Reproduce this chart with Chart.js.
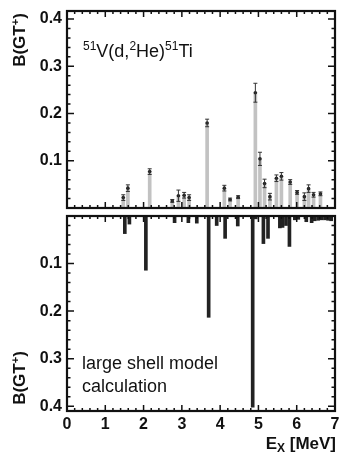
<!DOCTYPE html>
<html>
<head>
<meta charset="utf-8">
<script src="https://cdn.jsdelivr.net/npm/chart.js@4.4.1/dist/chart.umd.min.js"></script>
<style>
  body { margin: 0; background: #fff; width: 339px; height: 463px; position: relative; overflow: hidden; font-family: 'Liberation Sans', Arial, sans-serif; color: #111; }
  canvas { position: absolute; left: 0; }
  #topChart { top: 0; }
  #calcChart { top: 212px; }
  .lbl { position: absolute; white-space: nowrap; z-index: 5; }
  .ytitle { width: 80px; height: 20px; line-height: 20px; text-align: center; font-weight: bold; font-size: 17px; transform: rotate(-90deg); }
  .up { font-size: 12px; position: relative; top: -7px; }
</style>
</head>
<body>
<canvas id="topChart" width="339" height="213"></canvas>
<canvas id="calcChart" width="339" height="251"></canvas>

<div class="lbl ytitle" style="left:-20px; top:30px;">B(GT<span style="font-size:11px;position:relative;top:-6px;">+</span>)</div>
<div class="lbl ytitle" style="left:-20px; top:368px;">B(GT<span style="font-size:11px;position:relative;top:-6px;">+</span>)</div>
<div class="lbl" style="left:83px; top:41px; font-size:18px; line-height:20px;"><span class="up">51</span>V(d,<span class="up">2</span>He)<span class="up">51</span>Ti</div>
<div class="lbl" style="left:82px; top:352px; font-size:18px; line-height:23px;">large shell model<br>calculation</div>
<div class="lbl" style="right:3px; top:434px; font-size:17px; line-height:20px; font-weight:bold;">E<span style="font-size:12px;position:relative;top:3px;">X</span> [MeV]</div>

<script>
// measured 51V(d,2He)51Ti strengths
const expEnergy = [1.47, 1.59, 2.16, 2.75, 2.91, 3.06, 3.19, 3.66, 4.11, 4.26, 4.47, 4.92, 5.04, 5.16, 5.30, 5.47, 5.60, 5.83, 6.01, 6.20, 6.31, 6.44, 6.62];
const expStrength = [0.022, 0.042, 0.077, 0.015, 0.026, 0.027, 0.022, 0.180, 0.042, 0.018, 0.023, 0.244, 0.104, 0.052, 0.024, 0.063, 0.067, 0.055, 0.033, 0.024, 0.041, 0.028, 0.030];
const expError = [0.006, 0.007, 0.006, 0.003, 0.012, 0.006, 0.006, 0.008, 0.006, 0.003, 0.003, 0.020, 0.014, 0.009, 0.007, 0.007, 0.008, 0.005, 0.004, 0.008, 0.008, 0.005, 0.004];

// shell model calculation
const calcEnergy = [1.51, 1.63, 2.06, 2.81, 3.17, 3.39, 3.70, 3.91, 4.13, 4.46, 4.85, 4.93, 5.13, 5.25, 5.56, 5.63, 5.72, 5.81, 5.95, 6.04, 6.25, 6.39, 6.47, 6.56, 6.65, 6.74, 6.82, 6.90];
const calcStrength = [0.037, 0.017, 0.114, 0.014, 0.014, 0.015, 0.213, 0.020, 0.047, 0.021, 0.402, 0.006, 0.058, 0.047, 0.025, 0.024, 0.020, 0.064, 0.008, 0.007, 0.012, 0.014, 0.010, 0.009, 0.008, 0.008, 0.009, 0.010];

const yTickLabels = ['0.1', '0.2', '0.3', '0.4'];
const xTickLabels = ['0', '1', '2', '3', '4', '5', '6', '7'];

const tickFont = { family: "'Liberation Sans', Arial, sans-serif", size: 16, weight: 'bold' };

// frame plus inward minor/major ticks
const framePlugin = {
    id: 'frame',
    afterDraw(chart) {
        const ctx = chart.ctx;
        const a = chart.chartArea;
        const xs = chart.scales.x, ys = chart.scales.y;
        ctx.save();
        ctx.strokeStyle = '#111';
        ctx.lineWidth = 1.5;
        ctx.beginPath();
        for (let i = 0; i <= 35; i++) {
            const px = xs.getPixelForValue(i * 0.2);
            const len = i % 5 === 0 ? 6 : 3;
            ctx.moveTo(px, a.bottom); ctx.lineTo(px, a.bottom - len);
            ctx.moveTo(px, a.top); ctx.lineTo(px, a.top + len);
        }
        const ymax = ys.max;
        for (let i = 0; i * 0.02 <= ymax + 1e-9; i++) {
            const py = ys.getPixelForValue(i * 0.02);
            const len = i % 5 === 0 ? 7 : 3.5;
            ctx.moveTo(a.left, py); ctx.lineTo(a.left + len, py);
            ctx.moveTo(a.right, py); ctx.lineTo(a.right - len, py);
        }
        ctx.stroke();
        ctx.lineWidth = 2.2;
        ctx.strokeRect(a.left, a.top, a.right - a.left, a.bottom - a.top);
        ctx.restore();
    }
};

const errorBarPlugin = {
    id: 'errorBars',
    afterDatasetsDraw(chart) {
        if (chart.canvas.id !== 'topChart') return;
        const ctx = chart.ctx;
        const xs = chart.scales.x, ys = chart.scales.y;
        ctx.save();
        ctx.strokeStyle = '#333';
        ctx.lineWidth = 1;
        ctx.beginPath();
        expEnergy.forEach((e, i) => {
            const px = xs.getPixelForValue(e);
            const y1 = ys.getPixelForValue(expStrength[i] + expError[i]);
            const y2 = ys.getPixelForValue(expStrength[i] - expError[i]);
            ctx.moveTo(px, y1); ctx.lineTo(px, y2);
            ctx.moveTo(px - 2, y1); ctx.lineTo(px + 2, y1);
            ctx.moveTo(px - 2, y2); ctx.lineTo(px + 2, y2);
        });
        ctx.stroke();
        ctx.restore();
    }
};

function yAxis(max, reverse) {
    return {
        min: 0, max: max, reverse: reverse,
        grid: { display: false, drawTicks: false },
        border: { display: false },
        afterFit(scale) { scale.width = 67; scale.paddingTop = 0; scale.paddingBottom = 0; },
        ticks: {
            stepSize: 0.1, includeBounds: false, padding: 5,
            color: '#111', font: tickFont,
            callback: v => {
                const s = v.toFixed(1);
                return yTickLabels.includes(s) ? s : '';
            }
        }
    };
}

function xAxis(showLabels) {
    return {
        type: 'linear', min: 0, max: 7, offset: false,
        display: showLabels,
        grid: { display: false, drawTicks: false },
        border: { display: false },
        afterFit(scale) { scale.height = showLabels ? 52 : 0; scale.paddingLeft = 0; scale.paddingRight = 0; },
        ticks: {
            stepSize: 1, padding: 4, color: '#111', font: tickFont, maxRotation: 0,
            callback: v => xTickLabels[v] ?? ''
        }
    };
}

new Chart(document.getElementById('topChart'), {
    type: 'bar',
    data: {
        datasets: [
            {
                type: 'scatter',
                data: expEnergy.map((e, i) => ({ x: e, y: expStrength[i] })),
                pointRadius: 1.8, pointBackgroundColor: '#222', pointBorderWidth: 0, order: 0
            },
            {
                type: 'bar',
                data: expEnergy.map((e, i) => ({ x: e, y: expStrength[i] })),
                backgroundColor: '#c2c2c2', barThickness: 3, order: 1
            }
        ]
    },
    options: {
        responsive: false, animation: false,
        layout: { padding: { top: 11, right: 4, bottom: 5, left: 0 } },
        plugins: { legend: { display: false }, tooltip: { enabled: false } },
        scales: {
            x: xAxis(false),
            y: yAxis(0.417, false)
        }
    },
    plugins: [framePlugin, errorBarPlugin]
});

new Chart(document.getElementById('calcChart'), {
    type: 'bar',
    data: {
        datasets: [{
            data: calcEnergy.map((e, i) => ({ x: e, y: calcStrength[i] })),
            backgroundColor: '#222', barThickness: 3
        }]
    },
    options: {
        responsive: false, animation: false,
        layout: { padding: { top: 4, right: 4, bottom: 0, left: 0 } },
        plugins: { legend: { display: false }, tooltip: { enabled: false } },
        scales: {
            x: xAxis(true),
            y: yAxis(0.41, true)
        }
    },
    plugins: [framePlugin]
});
</script>
</body>
</html>
